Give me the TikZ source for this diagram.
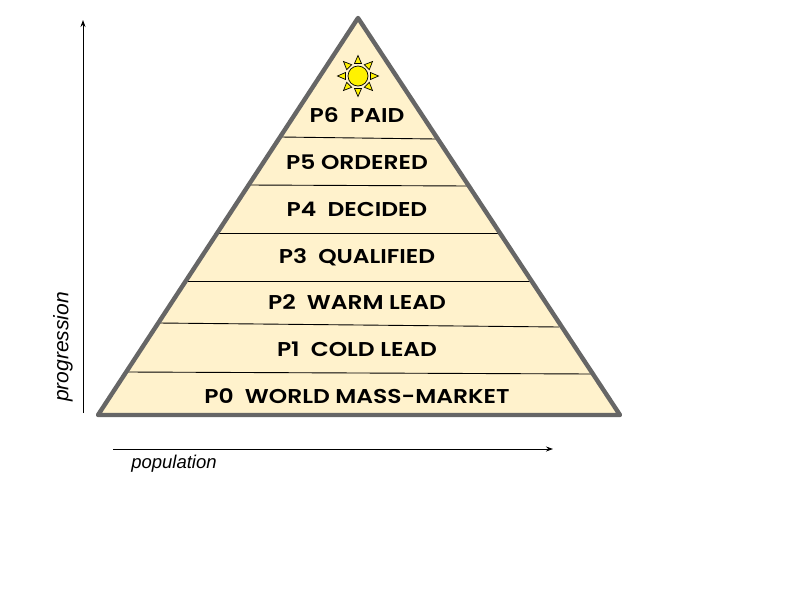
\documentclass[tikz,border=0pt]{standalone}
\usepackage{fontspec}
\setmainfont{Liberation Sans}
\newfontfamily\levelfont[FakeStretch=1.17]{Poppins SemiBold}
\usetikzlibrary{arrows.meta}
\definecolor{bandfill}{HTML}{FFF2CC}
\definecolor{edgegrey}{HTML}{666666}
\tikzset{
  level label/.style={font=\levelfont\fontsize{20}{23}\selectfont, text=black, inner sep=0pt, anchor=base},
  axis label/.style={font=\itshape\fontsize{18.5}{21}\selectfont, text=black, inner sep=0pt},
  axis/.style={black, line width=0.9pt, -{Stealth[length=7pt,width=5pt]}},
  band/.style={black, line width=0.9pt},
  ray/.style={draw=black, fill=yellow, line width=0.7pt, line join=miter}
}
\begin{document}
\begin{tikzpicture}[x=1pt, y=-1pt]
\useasboundingbox (0,0) rectangle (800,600);
% pyramid
\coordinate (apex) at (358,18);
\coordinate (left) at (98,415);
\coordinate (right) at (620,415);
\fill [bandfill] (apex) -- (left) -- (right) -- cycle;
\coordinate (p6a) at (281,137);
\coordinate (p6b) at (436,139);
\coordinate (p5a) at (249,185);
\coordinate (p5b) at (468,186);
\coordinate (p4a) at (218,233);
\coordinate (p4b) at (498,233);
\coordinate (p3a) at (188,281);
\coordinate (p3b) at (530,281);
\coordinate (p2a) at (159,323);
\coordinate (p2b) at (559,327);
\coordinate (p1a) at (128,372);
\coordinate (p1b) at (592,374);
\foreach \lvl in {p1,p2,p3,p4,p5,p6} {
  \draw [band] (\lvl a) -- (\lvl b);
}
\draw [draw=edgegrey, line width=4.4pt, line join=round] (apex) -- (left) -- (right) -- cycle;
% levels
\node [level label] (p6) at (357,122) {P6\ \ PAID};
\node [level label] (p5) at (357,169) {P5 ORDERED};
\node [level label] (p4) at (357,216) {P4\ \ DECIDED};
\node [level label] (p3) at (357,263) {P3\ \ QUALIFIED};
\node [level label] (p2) at (357,309) {P2\ \ WARM LEAD};
\node [level label] (p1) at (357,356) {P1\ \ COLD LEAD};
\node [level label] (p0) at (357,403) {P0\ \ WORLD MASS-MARKET};
% sun
\coordinate (sun) at (358,76);
\foreach \a in {0,90,180,270} {
  \draw [ray, rotate around={\a:(sun)}] ([xshift=12.5pt,yshift=-3.5pt]sun) -- ([xshift=20.5pt]sun) -- ([xshift=12.5pt,yshift=3.5pt]sun) -- cycle;
}
\foreach \a in {45,135,225,315} {
  \draw [ray, rotate around={\a:(sun)}] ([xshift=12.5pt,yshift=-3.5pt]sun) -- ([xshift=20.5pt]sun) -- ([xshift=12.5pt,yshift=3.5pt]sun) -- cycle;
}
\node [circle, draw=black, fill=yellow, line width=0.7pt, minimum size=20pt, inner sep=0pt] (sundisc) at (sun) {};
% axes
\coordinate (ybase) at (83,413);
\coordinate (ytip) at (83,20);
\coordinate (xbase) at (113,449);
\coordinate (xtip) at (553,449);
\draw [axis] (ybase) -- (ytip);
\draw [axis] (xbase) -- (xtip);
\node [axis label, rotate=90, font=\itshape\fontsize{21}{24}\selectfont] (progression) at (63,347) {progression};
\node [axis label] (population) at (174,464) {population};
\end{tikzpicture}
\end{document}
